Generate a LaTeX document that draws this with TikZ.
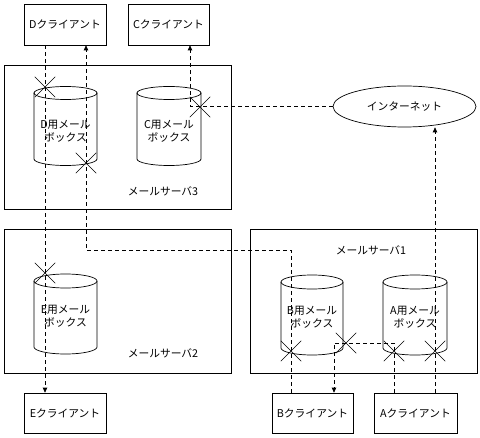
\documentclass[tikz,border=0pt]{standalone}
\usepackage{fontspec}
\setmainfont{Noto Sans CJK JP}
\usetikzlibrary{shapes.geometric,shapes.misc,arrows.meta}
\newcommand\mycyl[5]{%
  \draw (#1-#4,#2) -- (#1-#4,#3) arc[start angle=180,end angle=360,x radius=#4bp,y radius=#5bp] -- (#1+#4,#2);
  \draw (#1,#2) ellipse [x radius=#4bp, y radius=#5bp];}
\begin{document}
\begin{tikzpicture}[x=1bp,y=-1bp, line width=0.7bp,
  client/.style={draw, rectangle, minimum width=82bp, minimum height=41bp, inner sep=0, font=\fontsize{10.8}{12}\selectfont},
  server/.style={draw, rectangle, inner sep=0},
  conn/.style={dash pattern=on 4bp off 3bp},
  tip/.style={-{Triangle[length=5bp,width=4.5bp]}},
  xmark/.style={cross out, draw, minimum size=20bp, inner sep=0, line width=0.5bp},
  lbl/.style={font=\fontsize{10.8}{13.5}\selectfont, align=center, inner sep=0},
]
\fill[white] (0,0) rectangle (480,438);
\useasboundingbox (0,0) rectangle (480,438);

% servers
\node[server, minimum width=227bp, minimum height=144bp] (s3) at (117.5,137) {};
\node[server, minimum width=227bp, minimum height=144bp] (s2) at (117.5,301) {};
\node[server, minimum width=227bp, minimum height=144bp] (s1) at (363.5,301) {};
\node[lbl] (s3l) at (163,191) {メールサーバ3};
\node[lbl] (s2l) at (163,353) {メールサーバ2};
\node[lbl] (s1l) at (371,250) {メールサーバ1};

% clients
\node[client] (dcl) at (65,24.5) {Dクライアント};
\node[client, minimum width=81bp] (ccl) at (168.5,24.5) {Cクライアント};
\node[client, minimum height=40bp] (ecl) at (65,413) {Eクライアント};
\node[client, minimum width=81bp, minimum height=40bp] (bcl) at (312.5,413) {Bクライアント};
\node[client, minimum width=83bp, minimum height=40bp] (acl) at (415.5,413) {Aクライアント};

% internet
\node[draw, ellipse, minimum width=143bp, minimum height=41bp, inner sep=0, font=\fontsize{10.8}{12}\selectfont] (inet) at (404.5,106.5) {インターネット};

% mailboxes
\mycyl{65.5}{93}{159}{31.5}{6.5}
\mycyl{169}{93}{159}{32}{6.5}
\mycyl{65.5}{281}{347}{31.5}{7}
\mycyl{312}{282}{348}{31}{7}
\mycyl{415}{282}{348}{32}{7}
\node[lbl] (mbd) at (65.5,131) {D用メール\\ボックス};
\node[lbl] (mbc) at (169,131) {C用メール\\ボックス};
\node[lbl] (mbe) at (65.5,316) {E用メール\\ボックス};
\node[lbl] (mbb) at (312,317) {B用メール\\ボックス};
\node[lbl] (mba) at (415,317) {A用メール\\ボックス};

% crosses
\node[xmark] (xd1) at (45,87) {};
\node[xmark] (xd2) at (86,163) {};
\node[xmark] (xc) at (200,107) {};
\node[xmark] (xe) at (45,273) {};
\node[xmark] (xb1) at (291,351) {};
\node[xmark] (xb2) at (346,343) {};
\node[xmark] (xa1) at (394,351) {};
\node[xmark] (xa2) at (435,351) {};

% bend points
\coordinate (b1) at (291,250);
\coordinate (c1) at (190,107);
\coordinate (ab) at (334,343);

% connectors
\draw[conn,tip] (dcl.south -| xd1) -- (ecl.north -| xd1);
\draw[conn,tip] (bcl.north -| b1) -- (b1) -| (dcl.south -| xd2);
\draw[conn,tip] (inet.west) -| (ccl.south -| c1);
\draw[conn,tip] (acl.north -| xa2) -- (inet.south -| xa2);
\draw[conn,tip] (acl.north -| xa1) |- (ab) -- (bcl.north -| ab);
\end{tikzpicture}
\end{document}
